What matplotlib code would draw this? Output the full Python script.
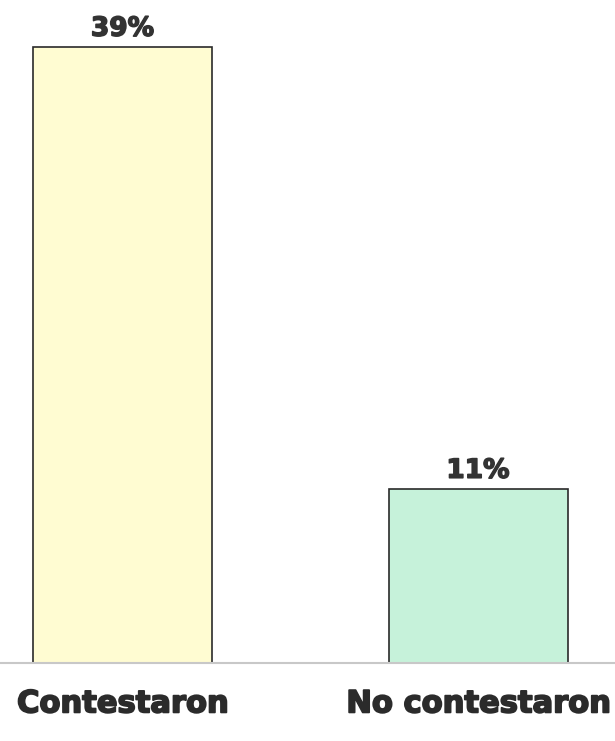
import matplotlib
matplotlib.use("Agg")
import matplotlib.pyplot as plt
import matplotlib.patheffects as pe

categories = ["Contestaron", "No contestaron"]
values = [39, 11]
value_labels = ["39%", "11%"]
colors = ["#fffcd2", "#c6f2da"]

heavy = [pe.withStroke(linewidth=1.3, foreground="#2b2b2b")]

fig = plt.figure(figsize=(6.15, 7.41), dpi=100)
ax = fig.add_axes([0, 78/741, 1, 663/741])
x = list(range(len(categories)))
bars = ax.bar(x, values, width=0.5035, color=colors, edgecolor="#2a2a2a", linewidth=1.2, zorder=2)
ax.set_xlim(-0.3446, 1.385)
ax.set_ylim(0, 42)
for s in ["top", "right", "left"]:
    ax.spines[s].set_visible(False)
ax.spines["bottom"].set_color("#c8c8c8")
ax.spines["bottom"].set_linewidth(1.5)
ax.spines["bottom"].set_zorder(3)
ax.set_yticks([])
ax.set_xticks(x)
ax.set_xticklabels(categories, fontsize=22, fontweight="bold", family="DejaVu Sans", color="#2b2b2b")
for t in ax.get_xticklabels():
    t.set_path_effects(heavy)
ax.tick_params(axis="x", length=0, pad=19)
for xi, v, lab in zip(x, values, value_labels):
    ax.annotate(lab, (xi, v), xytext=(0, 4), textcoords="offset points", ha="center", va="bottom",
                fontsize=19, fontweight="bold", family="DejaVu Sans", color="#333333",
                path_effects=[pe.withStroke(linewidth=1.1, foreground="#333333")])
fig.savefig("out.png", dpi=100, facecolor="white")
